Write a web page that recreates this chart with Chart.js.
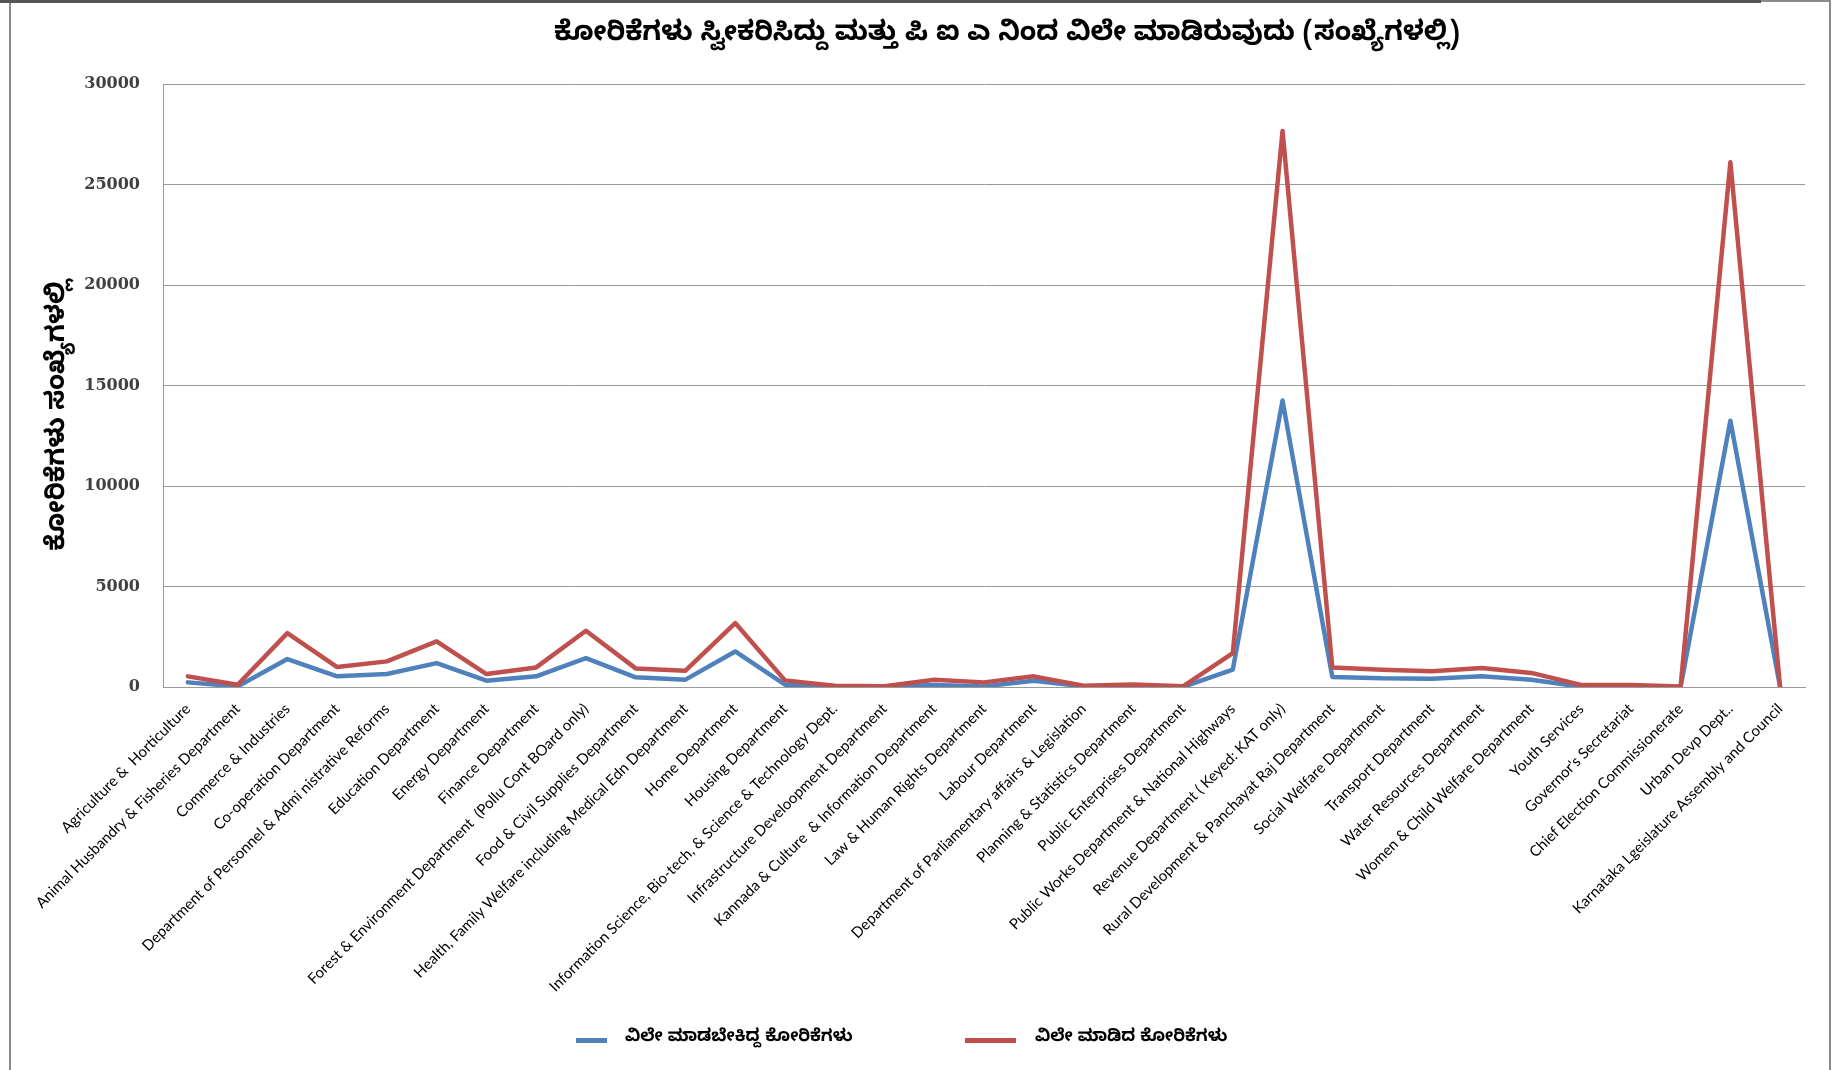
<!DOCTYPE html>
<html lang="kn">
<head>
<meta charset="utf-8">
<title>ಕೋರಿಕೆಗಳು ಸ್ವೀಕರಿಸಿದ್ದು ಮತ್ತು ಪಿ ಐ ಎ ನಿಂದ ವಿಲೇ ಮಾಡಿರುವುದು</title>
<script src="https://cdn.jsdelivr.net/npm/chart.js"></script>
<style>
  body { margin: 0; background: #fff; }
  #wrap { position: relative; width: 1847px; height: 1070px; overflow: hidden; }
  #frame { position: absolute; left: 9px; top: 0; width: 1822px; height: 1100px; border: 2px solid #8c8c8c; box-sizing: border-box; }
  #topline { position: absolute; left: 0; top: 0; width: 1761px; height: 3px; background: #555; }
  #title { position: absolute; left: 1007px; top: 18px; transform: translateX(-50%); white-space: nowrap;
           font: bold 27px "Noto Sans Kannada", "Noto Sans", sans-serif; color: #000; }
  .leg { position: absolute; top: 1027px; white-space: nowrap; font: bold 17px "Noto Sans Kannada", "Noto Sans", sans-serif; color: #000; }
  .leg i { position: absolute; top: 11px; height: 5px; }
  canvas { position: absolute; left: 0; top: 0; }
</style>
</head>
<body>
<div id="wrap">
  <canvas id="reqChart" width="1847" height="1070"></canvas>
  <div id="frame"></div>
  <div id="topline"></div>
  <div id="title">ಕೋರಿಕೆಗಳು ಸ್ವೀಕರಿಸಿದ್ದು ಮತ್ತು ಪಿ ಐ ಎ ನಿಂದ ವಿಲೇ ಮಾಡಿರುವುದು (ಸಂಖ್ಯೆಗಳಲ್ಲಿ)</div>
  <div class="leg" style="left:576px"><i style="left:0;width:31px;background:#4F81BD"></i><span style="margin-left:49px">ವಿಲೇ ಮಾಡಬೇಕಿದ್ದ ಕೋರಿಕೆಗಳು</span></div>
  <div class="leg" style="left:965px"><i style="left:0;width:51px;background:#C0504D"></i><span style="margin-left:70px">ವಿಲೇ ಮಾಡಿದ ಕೋರಿಕೆಗಳು</span></div>
</div>
<script>
const departments = [
  'Agriculture &  Horticulture',
  'Animal Husbandry & Fisheries Department',
  'Commerce & Industries',
  'Co-operation Department',
  'Department of Personnel & Admi nistrative Reforms',
  'Education Department',
  'Energy Department',
  'Finance Department',
  'Forest & Environment Department  (Pollu Cont BOard only)',
  'Food & Civil Supplies Department',
  'Health, Family Welfare including Medical Edn Department',
  'Home Department',
  'Housing Department',
  'Information Science, Bio-tech, & Science & Technology Dept.',
  'Infrastructure Develoopment Department',
  'Kannada & Culture  & Information Department',
  'Law & Human Rights Department',
  'Labour Department',
  'Department of Parliamentary affairs & Legislation',
  'Planning & Statistics Department',
  'Public Enterprises Department',
  'Public Works Department & National Highways',
  'Revenue Department ( Keyed: KAT only)',
  'Rural Development & Panchayat Raj Department',
  'Social Welfare Department',
  'Transport Department',
  'Water Resources Department',
  'Women & Child Welfare Department',
  'Youth Services',
  "Governor's Secretariat",
  'Chief Election Commissionerate',
  'Urban Devp Dept..',
  'Karnataka Lgeislature Assembly and Council'
];
// ವಿಲೇ ಮಾಡಬೇಕಿದ್ದ ಕೋರಿಕೆಗಳು (pending)
const pending = [230, 30, 1390, 530, 645, 1190, 315, 530, 1440, 480, 365, 1770, 115, 10, 10, 100, 30, 315, 30, 30, 5,
                 860, 14250, 500, 430, 415, 530, 365, 10, 10, 5, 13250, 0];
// ವಿಲೇ ಮಾಡಿದ ಕೋರಿಕೆಗಳು (disposed)
const disposed = [530, 115, 2680, 990, 1275, 2270, 645, 975, 2800, 925, 810, 3180, 330, 65, 35, 365, 230, 530, 65, 130, 35,
                  1690, 27660, 975, 860, 780, 940, 700, 100, 100, 30, 26110, 0];
const yTicks = [0, 5000, 10000, 15000, 20000, 25000, 30000];
const seriesNames = ['ವಿಲೇ ಮಾಡಬೇಕಿದ್ದ ಕೋರಿಕೆಗಳು', 'ವಿಲೇ ಮಾಡಿದ ಕೋರಿಕೆಗಳು'];
const yTitle = 'ಕೋರಿಕೆಗಳು ಸಂಖ್ಯೆಗಳಲ್ಲಿ';

const knFont = '"Noto Sans Kannada", "Noto Sans", sans-serif';

new Chart(document.getElementById('reqChart'), {
  type: 'line',
  data: {
    labels: departments,
    datasets: [
      { label: seriesNames[0], data: pending, borderColor: '#4F81BD', backgroundColor: '#4F81BD', order: 1 },
      { label: seriesNames[1], data: disposed, borderColor: '#C0504D', backgroundColor: '#C0504D', order: 0 }
    ]
  },
  options: {
    responsive: false,
    animation: false,
    layout: { padding: { top: 84, right: 42, bottom: 0, left: 0 } },
    elements: {
      line: { borderWidth: 4.5, tension: 0, borderJoinStyle: 'round', borderCapStyle: 'round' },
      point: { radius: 0 }
    },
    plugins: { legend: { display: false }, tooltip: { enabled: false } },
    scales: {
      x: {
        offset: true,
        grid: { display: false, drawTicks: false },
        border: { color: '#9a9a9a', width: 1 },
        ticks: { autoSkip: false, minRotation: 45, maxRotation: 45, padding: 13, color: '#000',
                 font: { family: 'Lato, "Liberation Sans", sans-serif', size: 15 } },
        afterFit: s => { s.height = 383; }
      },
      y: {
        min: 0, max: 30000,
        afterBuildTicks: s => { s.ticks = yTicks.map(v => ({ value: v })); },
        grid: { color: '#9a9a9a', lineWidth: 1, drawTicks: false },
        border: { color: '#9a9a9a', width: 1 },
        ticks: { padding: 23, color: '#404040', font: { family: '"DejaVu Serif", serif', size: 16, weight: 'bold' },
                 callback: v => String(v) },
        // trailing spaces push the rotated title a little lower, as in the original
        title: { display: true, text: yTitle + '        ', color: '#000', padding: { top: 46, bottom: 0 },
                 font: { family: knFont, size: 26, weight: 'bold' } },
        afterFit: s => { s.width = 163; }
      }
    }
  }
});
</script>
</body>
</html>
